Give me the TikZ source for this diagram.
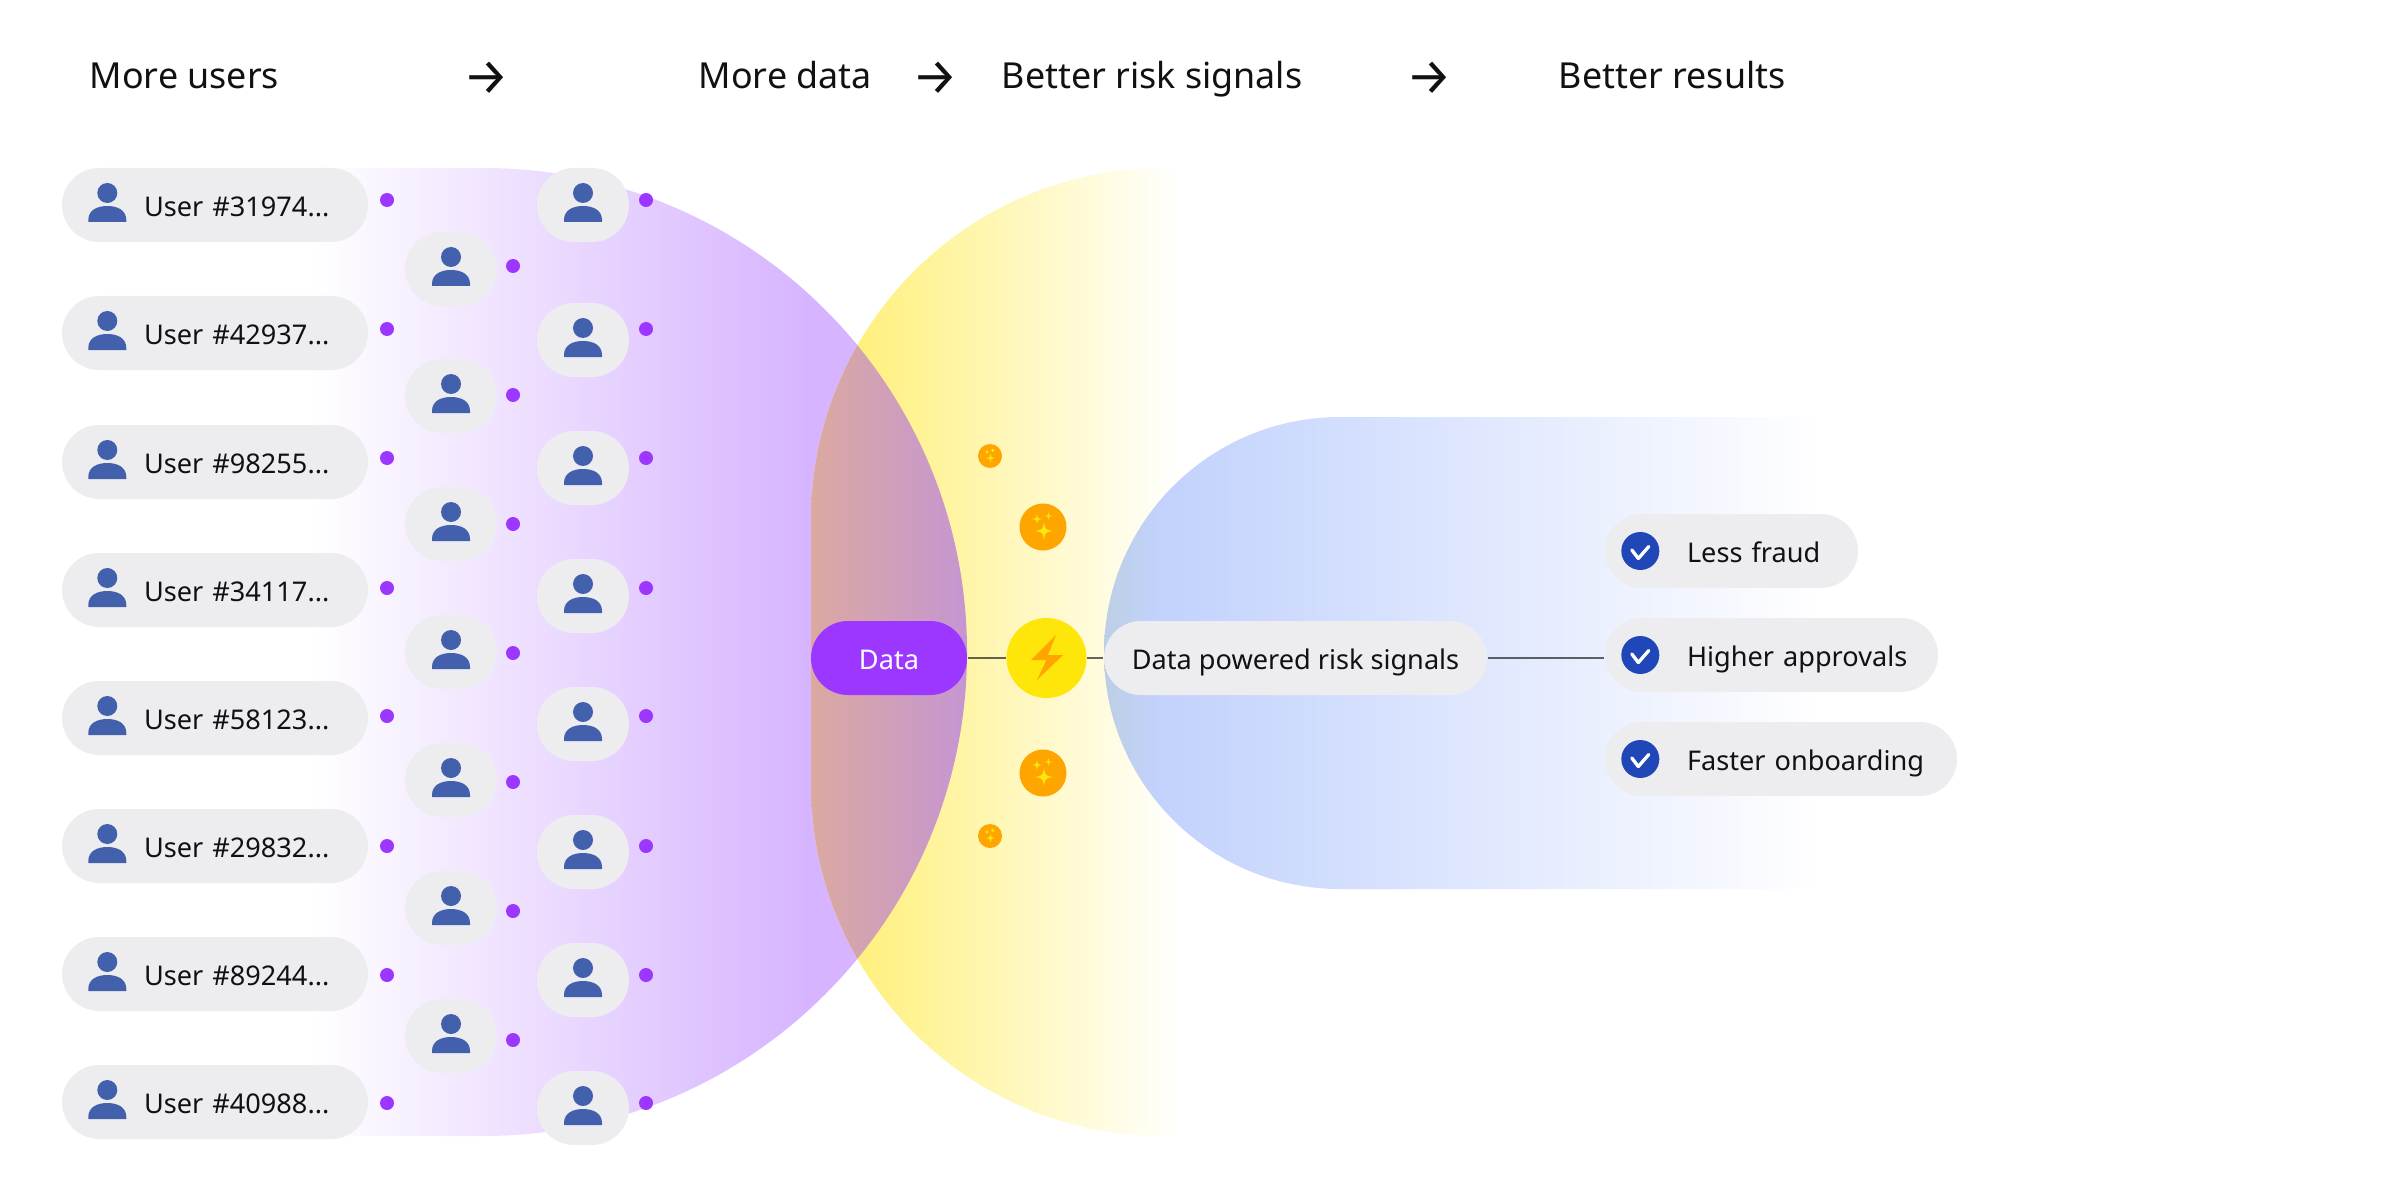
\documentclass[tikz,border=0pt]{standalone}
\usepackage{fontspec}
\setmainfont{Noto Sans}
\newfontfamily\arrowfont{Fira Sans}
\usepackage{xcolor}
\usetikzlibrary{calc}

\definecolor{pillgray}{HTML}{EDEDF0}
\definecolor{iconblue}{HTML}{4360AD}
\definecolor{dotpurple}{HTML}{9B37FF}
\definecolor{purplefill}{HTML}{D6B4FF}
\definecolor{yellowfill}{HTML}{FFEE6A}
\definecolor{bluefill}{HTML}{C2D2FD}
\definecolor{blueedge}{HTML}{BDCFE4}
\definecolor{checkblue}{HTML}{1F47B8}
\definecolor{sparkorange}{HTML}{FFA500}
\definecolor{boltyellow}{HTML}{FFE60A}
\definecolor{lensleft}{HTML}{DBA9A0}
\definecolor{lensright}{HTML}{C595D2}
\definecolor{inkblack}{HTML}{111114}

\pgfdeclarehorizontalshading{purplefade}{100bp}{color(0bp)=(white); color(25bp)=(white); color(63bp)=(purplefill); color(100bp)=(purplefill)}
\pgfdeclarehorizontalshading{yellowfade}{100bp}{color(0bp)=(yellowfill); color(25bp)=(yellowfill); color(75bp)=(white); color(100bp)=(white)}
\pgfdeclarehorizontalshading{bluefade}{100bp}{color(0bp)=(blueedge); color(25bp)=(blueedge); color(29bp)=(bluefill); color(75bp)=(white); color(100bp)=(white)}

\newcommand{\purplepath}{(3.1,10.32) -- (4.83,10.32) arc (90:-90:4.84) -- (3.1,0.64) -- cycle}
\newcommand{\yellowpath}{(11.8,10.32) -- (11.63,10.32) arc (90:180:3.52) -- (8.11,4.16) arc (180:270:3.52) -- (11.8,0.64) -- cycle}
\newcommand{\bluepath}{(13.4,7.83) arc (90:270:2.36) -- (18.2,3.11) -- (18.2,7.83) -- cycle}
\newcommand{\sparkstar}[3]{
  \fill[boltyellow,shift={(#1,#2)},scale=#3] (0,1) .. controls (0.15,0.15) .. (1,0)
    .. controls (0.15,-0.15) .. (0,-1) .. controls (-0.15,-0.15) .. (-1,0)
    .. controls (-0.15,0.15) .. (0,1) -- cycle;
}

\begin{document}
\begin{tikzpicture}[
  pill/.style={fill=pillgray, text=inkblack, rounded corners=0.37cm, inner sep=0pt,
    text height=0.485cm, text depth=0.255cm, font=\fontsize{7.72}{9}\selectfont},
  userpill/.style={pill, text width=3.06cm, align=left,
    execute at begin node=\hspace*{0.82cm},
    append after command={(\tikzlastnode.west) ++(0.46,-0.01) pic {usericon}}},
  usertile/.style={pill, minimum width=0.92cm, minimum height=0.74cm,
    append after command={(\tikzlastnode.center) ++(0,-0.01) pic {usericon}}},
  itempill/.style={pill, text width=#1, align=left,
    execute at begin node=\hspace*{0.82cm},
    append after command={(\tikzlastnode.west) ++(0.36,0) pic {checkicon}}},
  userdot/.style={circle, fill=dotpurple, minimum size=0.14cm, inner sep=0pt},
  head/.style={anchor=base west, text=inkblack, inner sep=0pt, font=\fontsize{10.2}{12}\selectfont},
  headarrow/.style={text=inkblack, inner sep=0pt, font=\arrowfont\fontsize{14.5}{16}\selectfont},
  spark/.style={circle, fill=sparkorange, inner sep=0pt, minimum size=#1},
  link/.style={draw=black, opacity=0.6, line width=0.7pt},
  pics/usericon/.style={code={
    \fill[iconblue] (0,0.13) circle (0.1);
    \fill[iconblue] (-0.19,-0.14) .. controls (-0.19,-0.04) and (-0.1,0) .. (0,0)
      .. controls (0.1,0) and (0.19,-0.04) .. (0.19,-0.14) -- (0.19,-0.16) -- (-0.19,-0.16) -- cycle;
  }},
  pics/checkicon/.style={code={
    \fill[checkblue] (0,0) circle (0.19);
    \draw[white, line width=0.95pt, line cap=round, line join=round] (-0.085,0.01) -- (-0.02,-0.075) -- (0.085,0.045);
  }},
  pics/sparkles/.style={code={\sparkstar{0.01}{-0.04}{0.09}\sparkstar{-0.06}{0.08}{0.05}\sparkstar{0.055}{0.11}{0.035}}}
]
\useasboundingbox (0,0) rectangle (24,12);

\shade[shading=purplefade] \purplepath;
\shade[shading=yellowfade] \yellowpath;
\begin{scope}
  \clip \purplepath;
  \clip \yellowpath;
  \shade[left color=lensleft, right color=lensright] (8.11,0.64) rectangle (9.67,10.32);
\end{scope}
\shade[shading=bluefade] \bluepath;

\node[head] (users) at (0.89,11.11) {More users};
\node[headarrow] (arrowa) at (4.86,11.22) {→};
\node[head] (data) at (6.98,11.11) {More data};
\node[headarrow] (arrowb) at (9.35,11.22) {→};
\node[head] (signals) at (10.01,11.11) {Better risk signals};
\node[headarrow] (arrowc) at (14.29,11.22) {→};
\node[head] (results) at (15.58,11.11) {Better results};

\node[userpill] (user1) at (2.15,9.95) {User \#31974...};
\node[userpill] (user2) at (2.15,8.67) {User \#42937...};
\node[userpill] (user3) at (2.15,7.38) {User \#98255...};
\node[userpill] (user4) at (2.15,6.10) {User \#34117...};
\node[userpill] (user5) at (2.15,4.82) {User \#58123...};
\node[userpill] (user6) at (2.15,3.54) {User \#29832...};
\node[userpill] (user7) at (2.15,2.26) {User \#89244...};
\node[userpill] (user8) at (2.15,0.98) {User \#40988...};

\node[usertile] (mid1) at (4.51,9.31) {};
\node[usertile] (mid2) at (4.51,8.04) {};
\node[usertile] (mid3) at (4.51,6.76) {};
\node[usertile] (mid4) at (4.51,5.48) {};
\node[usertile] (mid5) at (4.51,4.20) {};
\node[usertile] (mid6) at (4.51,2.92) {};
\node[usertile] (mid7) at (4.51,1.64) {};

\node[usertile] (far1) at (5.83,9.95) {};
\node[usertile] (far2) at (5.83,8.60) {};
\node[usertile] (far3) at (5.83,7.32) {};
\node[usertile] (far4) at (5.83,6.04) {};
\node[usertile] (far5) at (5.83,4.76) {};
\node[usertile] (far6) at (5.83,3.48) {};
\node[usertile] (far7) at (5.83,2.20) {};
\node[usertile] (far8) at (5.83,0.92) {};

\node[userdot] (dota1) at (3.87,10.00) {};
\node[userdot] (dota2) at (3.87,8.71) {};
\node[userdot] (dota3) at (3.87,7.42) {};
\node[userdot] (dota4) at (3.87,6.12) {};
\node[userdot] (dota5) at (3.87,4.84) {};
\node[userdot] (dota6) at (3.87,3.54) {};
\node[userdot] (dota7) at (3.87,2.25) {};
\node[userdot] (dota8) at (3.87,0.97) {};

\node[userdot] (dotb1) at (5.13,9.34) {};
\node[userdot] (dotb2) at (5.13,8.05) {};
\node[userdot] (dotb3) at (5.13,6.76) {};
\node[userdot] (dotb4) at (5.13,5.47) {};
\node[userdot] (dotb5) at (5.13,4.18) {};
\node[userdot] (dotb6) at (5.13,2.89) {};
\node[userdot] (dotb7) at (5.13,1.60) {};

\node[userdot] (dotc1) at (6.46,10.00) {};
\node[userdot] (dotc2) at (6.46,8.71) {};
\node[userdot] (dotc3) at (6.46,7.42) {};
\node[userdot] (dotc4) at (6.46,6.12) {};
\node[userdot] (dotc5) at (6.46,4.84) {};
\node[userdot] (dotc6) at (6.46,3.54) {};
\node[userdot] (dotc7) at (6.46,2.25) {};
\node[userdot] (dotc8) at (6.46,0.97) {};

\node[pill, fill=dotpurple, text=white, minimum width=1.56cm] (datapill) at (8.89,5.42) {Data};
\node[circle, fill=boltyellow, minimum size=0.8cm, inner sep=0pt] (bolt) at (10.465,5.42) {};
\node[pill, minimum width=3.83cm] (riskpill) at (12.955,5.42) {Data powered risk signals};

\fill[sparkorange, shift={(bolt.center)}] (0.095,0.23) -- (-0.155,-0.02) -- (0,-0.02)
  -- (-0.095,-0.22) -- (0.165,0.03) -- (0.015,0.03) -- cycle;

\node[spark=0.24cm] (sparka) at (9.90,7.44) {};
\node[spark=0.47cm] (sparkb) at (10.43,6.73) {};
\node[spark=0.47cm] (sparkc) at (10.43,4.27) {};
\node[spark=0.24cm] (sparkd) at (9.90,3.64) {};
\pic[scale=0.51] at (sparka) {sparkles};
\pic at (sparkb) {sparkles};
\pic at (sparkc) {sparkles};
\pic[scale=0.51] at (sparkd) {sparkles};

\node[itempill=2.53cm] (fraud) at (17.315,6.49) {Less fraud};
\node[itempill=3.33cm] (approvals) at (17.715,5.45) {Higher approvals};
\node[itempill=3.52cm] (onboarding) at (17.81,4.41) {Faster onboarding};

\draw[link] (datapill) -- (bolt);
\draw[link] (bolt) -- (riskpill);
\draw[link] (riskpill.east) -- (riskpill.east -| approvals.west);
\end{tikzpicture}
\end{document}
